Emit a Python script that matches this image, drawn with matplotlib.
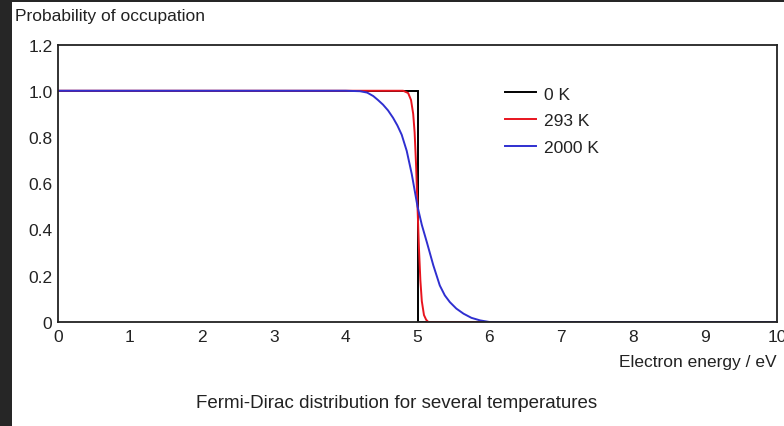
import matplotlib
matplotlib.use("Agg")
import matplotlib.pyplot as plt
from matplotlib.patches import Rectangle
from matplotlib.ticker import FuncFormatter

plt.rcParams['font.family'] = ['Liberation Sans', 'DejaVu Sans']

# Occupation probability versus electron energy (Fermi level at 5 eV)
energy_0k = [0.0, 5.0, 5.0, 10.0]
occ_0k = [1.0, 1.0, 0.0, 0.0]

energy_293k = [0.0, 4.80, 4.87, 4.91, 4.94, 4.96, 4.98, 5.00, 5.02, 5.04,
               5.06, 5.09, 5.12, 5.15, 10.0]
occ_293k = [1.0, 1.0, 0.99, 0.96, 0.90, 0.82, 0.68, 0.50, 0.32, 0.18,
            0.09, 0.03, 0.01, 0.0, 0.0]

energy_2000k = [0.0, 4.00, 4.20, 4.30, 4.385, 4.45, 4.52, 4.59, 4.66, 4.72,
                4.78, 4.85, 4.92, 5.00, 5.06, 5.13, 5.22, 5.31, 5.38, 5.45,
                5.54, 5.64, 5.75, 5.87, 6.00, 10.0]
occ_2000k = [1.0, 1.0, 0.998, 0.992, 0.977, 0.96, 0.94, 0.915, 0.883, 0.85,
             0.81, 0.74, 0.64, 0.50, 0.42, 0.345, 0.245, 0.158, 0.115, 0.086,
             0.058, 0.036, 0.018, 0.007, 0.0, 0.0]

series = [
    ("0 K", energy_0k, occ_0k, "#000000"),
    ("293 K", energy_293k, occ_293k, "#e8141e"),
    ("2000 K", energy_2000k, occ_2000k, "#2f2fd0"),
]

x_ticks = list(range(0, 11))
y_ticks = [0.0, 0.2, 0.4, 0.6, 0.8, 1.0, 1.2]

fig = plt.figure(figsize=(7.84, 4.27), dpi=100)
fig.patch.set_facecolor("#262626")
# white sheet behind the plot
sheet = Rectangle((12 / 784, 0), 1, (427 - 3) / 427, transform=fig.transFigure,
                  facecolor="white", edgecolor="none", zorder=-5)
fig.add_artist(sheet)

ax = fig.add_axes([58 / 784, 104 / 427, 719 / 784, 277.5 / 427])
ax.set_facecolor("white")

for label, xs, ys, color in series:
    ax.plot(xs, ys, color=color, lw=1.4, label=label, solid_joinstyle="miter")

ax.set_xlim(0, 10)
ax.set_ylim(0, 1.2)
ax.set_xticks(x_ticks)
ax.set_yticks(y_ticks)
ax.yaxis.set_major_formatter(FuncFormatter(lambda v, p: "0" if v == 0 else f"{v:.1f}"))
ax.tick_params(axis="both", length=0, labelsize=12.5, colors="#222222")
ax.tick_params(axis="x", pad=5)
ax.tick_params(axis="y", pad=4)
for side in ax.spines.values():
    side.set_linewidth(1.3)
    side.set_color("#222222")

fig.text(15 / 784, 1 - 17 / 427, "Probability of occupation", fontsize=12.5,
         color="#222222", ha="left", va="center")
fig.text(777 / 784, 1 - 362 / 427, "Electron energy / eV", fontsize=12.5,
         color="#222222", ha="right", va="center")
fig.text(397 / 784, 1 - 404 / 427, "Fermi-Dirac distribution for several temperatures",
         fontsize=13.5, color="#222222", ha="center", va="center")

ax.legend(loc="upper left", bbox_to_anchor=(0.6217, 0.849), frameon=False,
          fontsize=12.5, handlelength=1.8, handletextpad=0.45, labelspacing=0.66,
          borderpad=0, borderaxespad=0, labelcolor="#222222")

fig.savefig("out.png", dpi=100, facecolor=fig.get_facecolor())
